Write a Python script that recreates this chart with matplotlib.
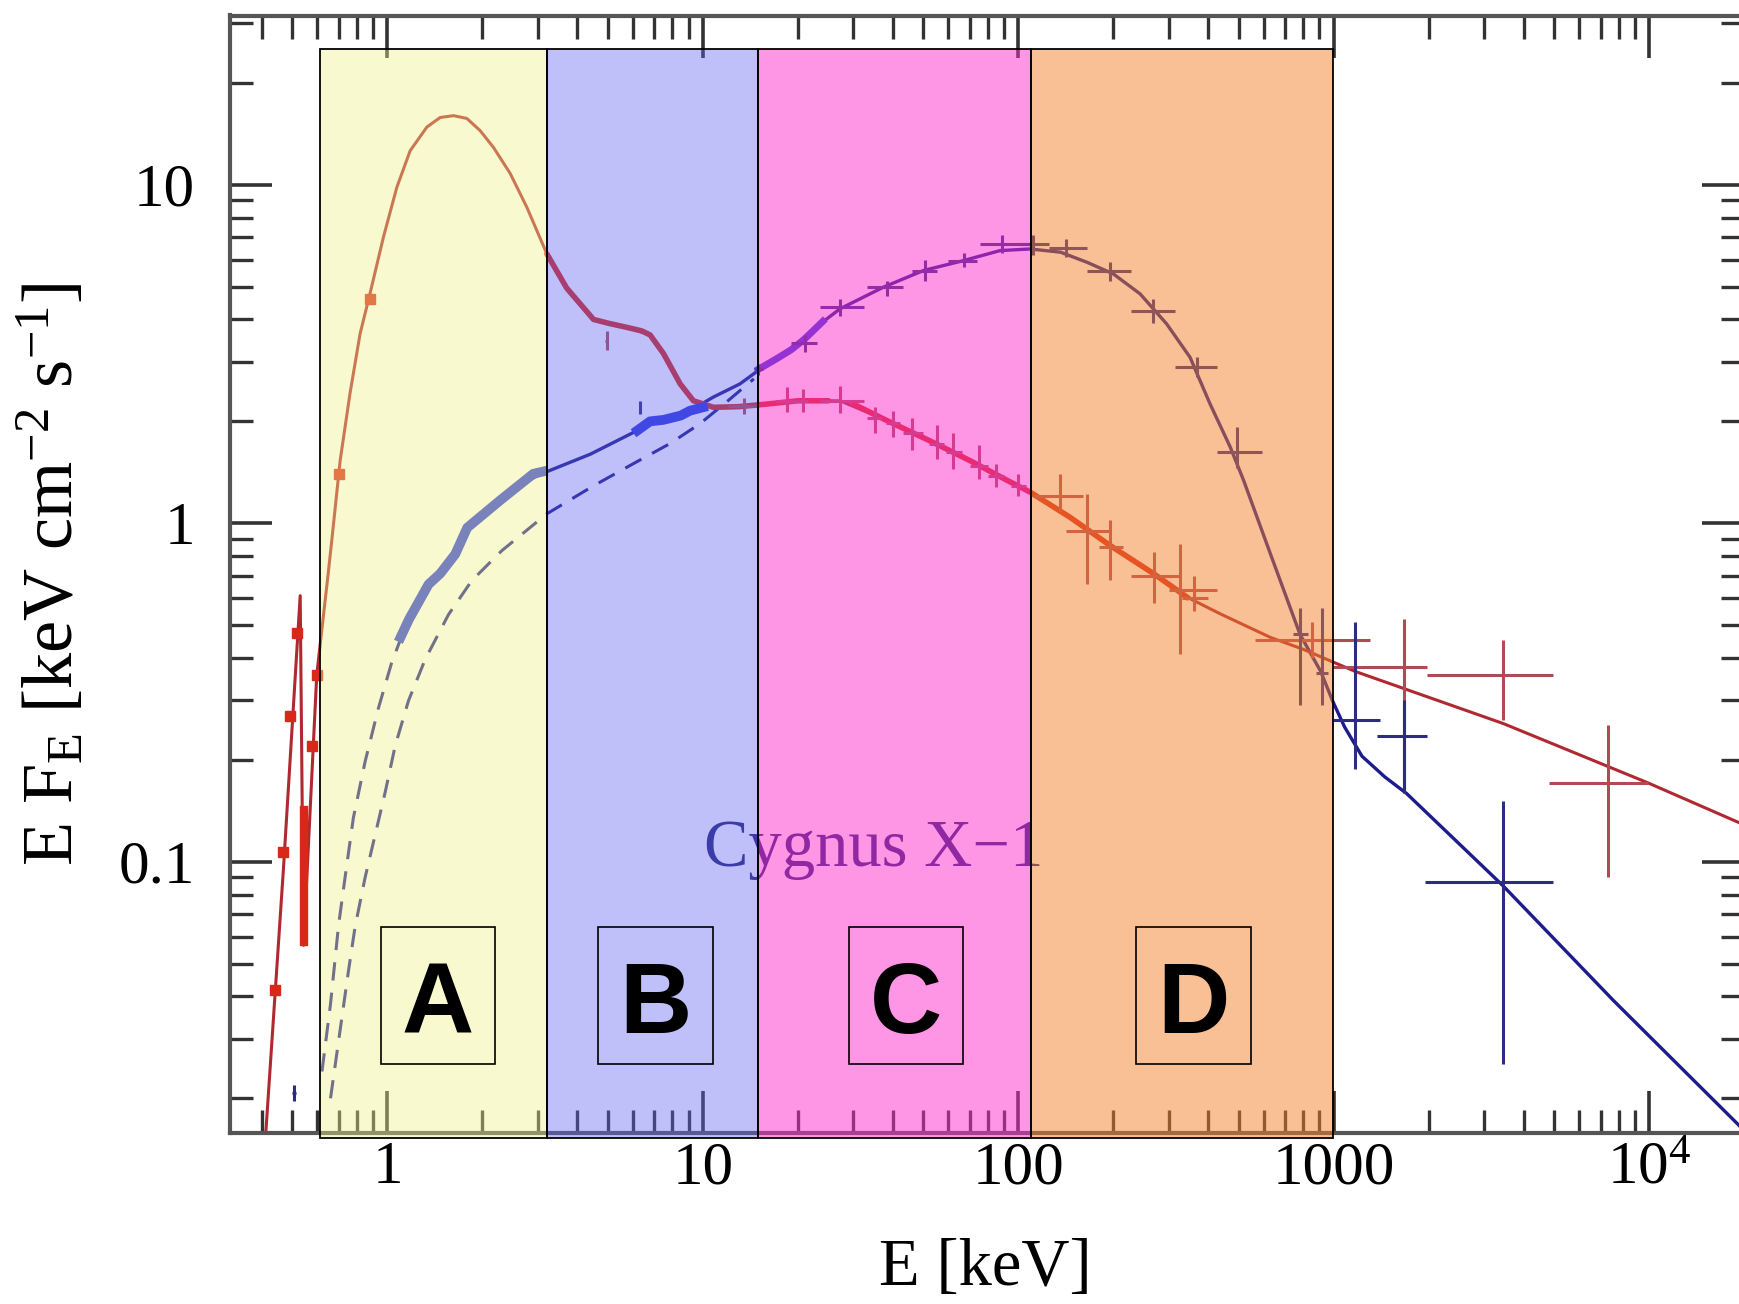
import numpy as np
import matplotlib
matplotlib.use("Agg")
import matplotlib.pyplot as plt
from matplotlib.patches import Rectangle
from matplotlib.ticker import FixedLocator, FixedFormatter, LogLocator, NullFormatter

plt.rcParams['font.family'] = ['Liberation Serif', 'DejaVu Serif']
plt.rcParams['mathtext.fontset'] = 'custom'
plt.rcParams['mathtext.rm'] = 'Liberation Serif'
plt.rcParams['mathtext.it'] = 'Liberation Serif:italic'
plt.rcParams['mathtext.bf'] = 'Liberation Serif:bold'

# ---------------- data ----------------
# soft state model (E in keV, E F_E)
soft_E = [0.41, 0.468, 0.529, 0.542, 0.597, 0.650, 0.667, 0.708, 0.761, 0.819, 0.881,
          0.971, 1.071, 1.18, 1.333, 1.469, 1.619, 1.785, 1.967, 2.167, 2.449, 2.766,
          3.20, 3.70, 4.5, 5.74, 6.8, 7.5, 8.47, 9.33, 10.8, 14.8, 20, 27.2, 38.3,
          52.5, 70.3, 91.9, 109, 146, 195, 268, 342, 436, 629, 800, 1167, 3440, 9890, 19400]
soft_F = [0.015, 0.095, 0.611, 0.0566, 0.357, 0.72, 0.90, 1.53, 2.42, 3.63, 4.78,
          7.0, 9.83, 12.6, 14.8, 15.8, 16.0, 15.7, 14.45, 12.9, 10.8, 8.58,
          6.25, 4.95, 4.0, 3.79, 3.6, 3.17, 2.58, 2.30, 2.20, 2.23, 2.30, 2.30, 2.01,
          1.75, 1.53, 1.34, 1.235, 1.04, 0.86, 0.71, 0.605, 0.54, 0.46, 0.424, 0.365, 0.256, 0.171, 0.130]

# hard state model
hard_E = [0.62, 0.66, 0.70, 0.74, 0.78, 0.85, 0.936, 1.03, 1.166, 1.35, 1.55, 1.785, 2.28,
          2.9, 3.2, 4.4, 6.2, 6.8, 9.1, 10.8, 13.1, 15.0, 18.9, 22, 27.2, 37.3, 50, 67,
          87.5, 109, 136, 165, 200, 243, 295, 350, 405, 469, 517, 629, 781, 908, 991,
          1081, 1227, 1450, 1700, 3440, 7690, 19400]
hard_F = [0.024, 0.038, 0.065, 0.095, 0.135, 0.198, 0.284, 0.386, 0.524, 0.66, 0.78, 0.95, 1.17,
          1.36, 1.42, 1.60, 1.88, 2.01, 2.15, 2.36, 2.58, 2.83, 3.24, 3.7, 4.3, 4.98, 5.58, 5.97,
          6.39, 6.46, 6.32, 5.90, 5.45, 4.76, 3.88, 3.09, 2.25, 1.68, 1.34, 0.812, 0.469, 0.365, 0.298,
          0.25, 0.205, 0.178, 0.159, 0.0848, 0.0389, 0.0165]

# hard state: disc-less continuum component (dashed)
comp_E = [0.66, 0.752, 0.79, 0.85, 0.914, 0.983, 1.058, 1.166, 1.317, 1.561, 1.851,
          2.305, 3.2, 4.5, 6.02, 7.87, 9.8, 12.0, 14.5]
comp_F = [0.020, 0.0474, 0.0644, 0.090, 0.12, 0.16, 0.22, 0.299, 0.396, 0.537, 0.677,
          0.83, 1.066, 1.29, 1.50, 1.72, 1.97, 2.3, 2.67]

# dense data stretches
soft_dataB_E = [3.2, 3.7, 4.5, 5.0, 5.74, 6.4, 6.8, 7.5, 8.47, 9.33, 10.8, 13.0, 16.0, 20.0, 25.0]
soft_dataB_F = [6.25, 4.95, 4.0, 3.9, 3.79, 3.7, 3.6, 3.17, 2.58, 2.30, 2.20, 2.21, 2.25, 2.30, 2.30]
soft_dataC_E = [30, 38.3, 52.5, 70.3, 91.9, 109, 146, 195, 268, 342]
soft_dataC_F = [2.25, 2.01, 1.75, 1.53, 1.34, 1.235, 1.04, 0.86, 0.71, 0.605]
soft_lowE = [0.441, 0.468, 0.491, 0.516, 0.575, 0.597, 0.70, 0.88]
soft_lowF = [0.0417, 0.107, 0.27, 0.473, 0.22, 0.357, 1.40, 4.6]
hard_dataA_E = [1.10, 1.17, 1.35, 1.47, 1.64, 1.79, 2.28, 2.9, 3.1]
hard_dataA_F = [0.46, 0.52, 0.66, 0.71, 0.81, 0.97, 1.17, 1.40, 1.42]
hard_dataB_E = [6.2, 6.8, 7.5, 8.5, 9.1, 10.0]
hard_dataB_F = [1.88, 2.0, 2.02, 2.08, 2.15, 2.2]
hard_dataC_E = [15, 17, 19, 21, 24]
hard_dataC_F = [2.85, 3.05, 3.25, 3.5, 3.95]

# error crosses: E, F, E_lo, E_hi, F_lo, F_hi
soft_err_E = [4.96, 13.5, 18.5, 20.7, 27.2, 35, 40, 46, 55, 62, 75, 85, 100, 135, 165, 195, 268, 325, 360, 850, 1667, 3440, 7400]
soft_err_F = [3.46, 2.22, 2.30, 2.30, 2.30, 2.05, 1.98, 1.85, 1.72, 1.62, 1.48, 1.38, 1.29, 1.20, 0.95, 0.85, 0.70, 0.633, 0.60, 0.452, 0.375, 0.356, 0.171]
soft_err_Elo = [4.9, 12.0, 17.0, 20.0, 23.5, 33, 38, 43, 52, 59, 70, 80, 95, 111, 142, 180, 228, 300, 330, 563, 990, 1970, 4800]
soft_err_Ehi = [5.0, 15.0, 20.0, 21.5, 32.3, 37, 42, 50, 58, 66, 80, 90, 106, 160, 195, 215, 326, 425, 400, 1300, 1970, 4950, 9900]
soft_err_Flo = [3.25, 2.10, 2.13, 2.13, 2.11, 1.85, 1.80, 1.65, 1.55, 1.45, 1.35, 1.28, 1.20, 1.09, 0.66, 0.68, 0.58, 0.41, 0.55, 0.40, 0.16, 0.263, 0.090]
soft_err_Fhi = [3.70, 2.35, 2.53, 2.50, 2.55, 2.20, 2.15, 2.05, 1.95, 1.85, 1.70, 1.50, 1.40, 1.40, 1.22, 1.02, 0.82, 0.87, 0.70, 0.51, 0.52, 0.452, 0.253]

hard_err_E = [0.506, 6.3, 15, 21, 27.2, 38.3, 50.5, 67, 88.6, 111, 142, 195, 267, 368, 492, 781, 919, 1167, 1667, 3440]
hard_err_F = [0.0207, 2.2, 2.85, 3.4, 4.35, 4.98, 5.58, 5.97, 6.7, 6.7, 6.5, 5.57, 4.25, 2.89, 1.62, 0.47, 0.36, 0.263, 0.235, 0.0869]
hard_err_Elo = [0.50, 6.25, 14.5, 19, 23.5, 33, 46, 60, 75.6, 100, 125, 165, 228, 314, 425, 740, 880, 991, 1373, 1950]
hard_err_Ehi = [0.512, 6.35, 15.5, 23, 32.3, 43.1, 55, 74, 109, 125, 165, 228, 314, 425, 590, 830, 960, 1397, 1970, 4950]
hard_err_Flo = [0.0196, 2.1, 2.75, 3.2, 4.1, 4.7, 5.2, 5.7, 6.3, 6.2, 6.1, 5.2, 3.9, 2.7, 1.46, 0.29, 0.29, 0.188, 0.16, 0.0253]
hard_err_Fhi = [0.0219, 2.3, 2.95, 3.6, 4.6, 5.2, 6.0, 6.3, 7.1, 7.1, 6.9, 5.9, 4.6, 3.1, 1.92, 0.56, 0.56, 0.51, 0.30, 0.151]

# energy bands and their labels
band_edges = [0.612, 3.20, 15.0, 109.5, 991]
band_colors = [(242, 242, 137), (97, 97, 242), (255, 45, 205), (245, 129, 45)]
band_alpha = [0.4, 0.4, 0.5, 0.5]
band_labels = ['A', 'B', 'C', 'D']
band_label_E = [1.445, 7.07, 44.1, 359]

x_ticks = [1, 10, 100, 1000, 1e4]
x_ticklabels = ['1', '10', '100', '1000', r'$10^4$']
y_ticks = [0.1, 1, 10]
y_ticklabels = ['0.1', '1', '10']

# ---------------- figure ----------------
W, H = 1740, 1304
fig = plt.figure(figsize=(W / 100, H / 100), dpi=100)
ax_l, ax_r, ax_t, ax_b = 229.7, 1744.4, 15.5, 1132.5
ax = fig.add_axes([ax_l / W, 1 - ax_b / H, (ax_r - ax_l) / W, (ax_b - ax_t) / H])
ax.set_xscale('log')
ax.set_yscale('log')
ax.set_xlim(10 ** -0.5, 2e4)
ax.set_ylim(10 ** -1.8, 10 ** 1.5)

red_model = '#b02830'
red_data = '#d8281a'
navy = '#1c1c8a'
blue_data = '#2a38dc'

hE, hF = np.array(hard_E), np.array(hard_F)
low = hE <= 3.2
ax.plot(hE[low], hF[low], color=navy, lw=2.2, ls=(0, (6, 4)), zorder=2)
ax.plot(hE[hE >= 3.2], hF[hE >= 3.2], color=navy, lw=2.4, zorder=2)
ax.plot(comp_E, comp_F, color=navy, lw=2.2, ls=(0, (6, 4)), zorder=2)
ax.plot(soft_E, soft_F, color=red_model, lw=2.2, zorder=2)

# dense data
ax.plot(soft_dataB_E, soft_dataB_F, color=red_data, lw=4, zorder=2, solid_capstyle='round')
ax.plot(soft_dataC_E, soft_dataC_F, color=red_data, lw=4, zorder=2)
ax.plot(soft_lowE, soft_lowF, ls='none', marker='s', ms=7, color=red_data, zorder=2)
ax.plot([0.542, 0.542], [0.058, 0.1426], color=red_data, lw=6, zorder=2)
ax.plot(hard_dataA_E, hard_dataA_F, color=blue_data, lw=7, zorder=2)
ax.plot(hard_dataB_E, hard_dataB_F, color=blue_data, lw=7, zorder=2)
ax.plot(hard_dataC_E, hard_dataC_F, color=blue_data, lw=5, zorder=2)


def crosses(E, F, Elo, Ehi, Flo, Fhi, color, lw):
    E, F = np.array(E), np.array(F)
    xerr = [E - np.array(Elo), np.array(Ehi) - E]
    yerr = [F - np.array(Flo), np.array(Fhi) - F]
    ax.errorbar(E, F, xerr=xerr, yerr=yerr, fmt='none', ecolor=color,
                elinewidth=lw, capsize=0, zorder=2)


crosses(soft_err_E, soft_err_F, soft_err_Elo, soft_err_Ehi, soft_err_Flo, soft_err_Fhi, '#b04a55', 2.2)
crosses(hard_err_E, hard_err_F, hard_err_Elo, hard_err_Ehi, hard_err_Flo, hard_err_Fhi, '#2c2c82', 2.2)

ax.text(34.8, 0.097, 'Cygnus X\u22121', fontsize=48, color='#24247a',
        ha='center', va='baseline', zorder=2)

# translucent energy bands
y_lo, y_hi = 0.0153, 25.1
for i in range(4):
    c = tuple(v / 255 for v in band_colors[i]) + (band_alpha[i],)
    ax.add_patch(Rectangle((band_edges[i], y_lo), band_edges[i + 1] - band_edges[i], y_hi - y_lo,
                           facecolor=c, edgecolor='black', lw=1.3, clip_on=False, zorder=3))

# label boxes
hw, hh = 0.181, 0.2016
yc = 0.0403
for lab, ec in zip(band_labels, band_label_E):
    x0, x1 = ec * 10 ** -hw, ec * 10 ** hw
    y0, y1 = yc * 10 ** -hh, yc * 10 ** hh
    ax.add_patch(Rectangle((x0, y0), x1 - x0, y1 - y0, facecolor='none',
                           edgecolor='black', lw=1.2, zorder=7))
    ax.text(ec, 0.0311, lab, fontsize=72, fontweight='bold', family='Liberation Sans',
            ha='center', va='baseline', color='black', zorder=8)

# axes styling
for s in ax.spines.values():
    s.set_linewidth(3.0)
    s.set_color('#555555')
ax.xaxis.set_major_locator(FixedLocator(x_ticks))
ax.xaxis.set_major_formatter(FixedFormatter(x_ticklabels))
ax.yaxis.set_major_locator(FixedLocator(y_ticks))
ax.yaxis.set_major_formatter(FixedFormatter(y_ticklabels))
for a in (ax.xaxis, ax.yaxis):
    a.set_minor_locator(LogLocator(base=10, subs=np.arange(2, 10), numticks=50))
    a.set_minor_formatter(NullFormatter())
ax.tick_params(which='both', direction='in', top=True, right=True, color='#333333')
ax.tick_params(which='major', length=30, width=2.6, labelsize=44)
ax.tick_params(which='minor', length=16.5, width=2.4)
ax.tick_params(axis='x', which='major', pad=6)
ax.tick_params(axis='y', which='major', pad=25)

fig.text(985 / W, 1 - 1268 / H, 'E [keV]', fontsize=48, ha='center', va='center')
fig.text(53 / W, 1 - 574 / H, r'E F$_{\mathrm{E}}$ [keV cm$^{-2}$ s$^{-1}$]', fontsize=52,
         rotation=90, ha='center', va='center')

fig.savefig('out.png', dpi=100)
